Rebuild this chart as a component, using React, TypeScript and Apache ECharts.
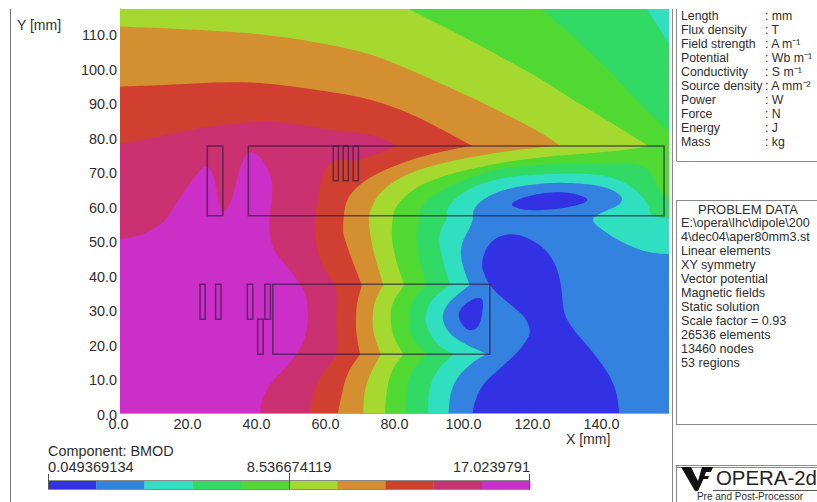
import React, { useEffect, useRef } from "react";
import * as echarts from "echarts";

type P = number[];
const X_MAX = 159.13;
const Y_MAX = 117.1;
const FONT = '"Liberation Sans", Arial, sans-serif';
const TEXT = "#2e2e2e";
const GRAY = "#8a8a8a";

const bandColors = ["#3232E4", "#3482DF", "#30DEC0", "#30DA64", "#50D932", "#A5D930", "#D48F30", "#D13F30", "#CB3070", "#CC2FC8"];

// Contours in mm; a repeated point keeps a sharp kink.
const tealContour: P[] = [[95.2,0],[95.7,5.7],[97.7,10.5],[102.4,14.9],[106.3,17.1],[106.3,17.1],[100.5,19.7],[95.7,22.6],[93.2,27],[94.2,30.8],[97.6,34.2],[101.4,37.1],[101.4,37.1],[100,40.5],[98.7,45.3],[99,49.2],[101,53],[102.4,55.9],[102.2,58.8],[105.3,62.2],[112.1,65.1],[121.8,66.6],[131.4,66.8],[141.1,65.6],[145.9,62.7],[145,60.3],[139.1,57.9],[136.2,55.9],[141.1,52.1],[146.9,48.7],[153.6,46.3],[159.13,46.1]];
const tealClose: P[] = [[159.13,117.1],[0,117.1],[0,0]];

const green2Contour: P[] = [[89.3,0],[89.4,6.7],[91.8,12.5],[96.6,17],[96.6,17],[91.8,19.7],[89,24.5],[88.4,27.9],[89.9,32.8],[95.7,37.1],[95.7,37.1],[93.7,43.4],[92.3,50.1],[93.3,54],[94.7,55.9],[94.7,59.8],[99.5,64.2],[107.3,67.5],[116.9,69],[131.4,69.5],[141,69],[148.8,65.6],[153.1,60.8],[153.8,57.4],[155.6,56.7],[159.13,56.4]];
const green2Close: P[] = [[159.13,107.1],[152.7,117.1],[0,117.1],[0,0]];

const greenContour: P[] = [[82.9,0],[83.1,7.6],[84.5,12.5],[89.1,17],[89.1,17],[84.5,21.2],[83.6,27],[84.5,32.8],[88.9,37.1],[88.9,37.1],[87,43.4],[85.8,50.1],[86.2,54],[87,55.9],[87,59.8],[90.8,63.2],[97.5,66.6],[107.3,70.4],[116.9,71.7],[131.4,72.4],[142,72.2],[148.8,72.4],[153.1,70.9],[155.1,67.1],[157,63.2],[159.13,61.7]];
const greenDiagonal: P[] = [[159.13,81.5],[150.7,89.8],[141,99.9],[131.4,109.1],[122.2,117.1],[0,117.1],[0,0]];

const yellowContour: P[] = [[76.8,0],[77.3,6.7],[78.7,12.5],[82.1,17],[82.1,17],[79.2,22.1],[78.3,27],[78.7,31.8],[82.4,37.1],[82.4,37.1],[80.2,43.4],[78.7,50.1],[78.9,55.9],[79.7,59.8],[85,65.1],[92.8,68.5],[102.4,70.9],[112.1,72.9],[123.7,74.3],[136,75.3],[146.7,76.2],[153.2,77.4],[153.2,77.4],[141.1,84.9],[131.4,90.7],[121.7,97],[112.1,102.3],[102.4,107.6],[92.8,112.5],[83.6,117.1]];
const yellowClose: P[] = [[0,117.1],[0,0]];

const orangeContour: P[] = [[70.5,0],[70.7,5.7],[72.5,11.5],[75.6,17],[75.6,17],[73.4,23.1],[73.1,27.9],[73.9,32.8],[76.3,37.1],[76.3,37.1],[74.4,43.4],[72.9,49.2],[72,55.9],[72.5,58.8],[74.9,63.7],[81.2,68.5],[90.8,71.9],[102.4,74.3],[114,76.2],[127.5,77.5],[127.5,77.5],[121.7,81.5],[112.1,86.4],[102.4,91.2],[92.8,95.6],[83.1,99.9],[73.4,103.8],[63.8,106.2],[47.3,109.1],[32.9,110.5],[13.5,111.5],[0,112]];
const orangeClose: P[] = [[0,0]];

const redContour: P[] = [[63.2,0],[63.8,3.3],[65.7,11.5],[69.6,17],[69.6,17],[68.4,23.1],[68.4,27.9],[68.6,31.8],[70.1,37.1],[70.1,37.1],[67.6,43.4],[65.2,50.1],[64.5,53],[65.2,60.8],[67.6,64.6],[72.5,68.5],[81.2,72.4],[90.8,75.3],[101.9,77.5],[101.9,77.5],[92.8,82.5],[83.1,87.3],[73.4,90.7],[63.8,92.7],[42.5,95.7],[30.9,96],[13.5,95.1],[0,94.6]];
const redClose: P[] = [[0,0]];

const pinkContour: P[] = [[55.1,0],[55.6,4.7],[58,10.5],[61.8,15.4],[63,17.3],[62.6,27],[63,36.6],[60.4,39.5],[57.5,45.3],[56.2,53],[57,60.8],[58.9,70.4],[61.8,73.1],[64.7,73.7],[67.6,72.9],[70.5,73.8],[75.4,75.4],[80.2,77.5],[80.2,77.5],[76.1,79.6],[70.5,81.1],[63.8,81.5],[47.3,84.4],[37.7,84.4],[25.1,83],[13.5,80.6],[0,78]];
const pinkClose: P[] = [[0,0]];

const magentaContour: P[] = [[40.6,0],[41.1,3.8],[43.5,8.6],[48.3,13.4],[52.2,18.3],[54.1,23.1],[54.6,27.9],[54.1,33.7],[52.2,37.6],[48.3,42.5],[44.4,47.2],[43.3,52.1],[43.3,56.9],[44.4,64.6],[43.5,69.5],[41.1,73.8],[38.6,75.7],[36.7,75.3],[34.8,71.4],[33.3,65.6],[31.9,60.3],[29.9,57.9],[29,59.3],[28,64.6],[27,69.5],[25.1,71.9],[23.2,70.4],[20.3,66.6],[17.4,62.7],[13.5,56],[8.7,52.6],[3.9,50.9],[0,50.4]];
const magentaClose: P[] = [[0,0]];

const plotCorners: P[] = [[0,0],[159.13,0],[159.13,117.1],[0,117.1]];

const islandUpper: P[] = [[112.6,60.3],[115.9,62.2],[121.7,63.7],[129.5,64.2],[136.2,62.2],[134.3,60.6],[126.6,59],[117.7,58.6]];
const islandCoil: P[] = [[97.8,27.9],[99,30.8],[102.4,33.2],[105.1,33.5],[105.3,30.3],[104.3,25.5],[102.4,23.8],[100,24.3]];
const islandLowerContour: P[] = [[102.2,0],[102.9,3.8],[105.3,8.6],[110.1,12.9],[115,17.3],[118.3,21.6],[119,24.1],[117.4,27.9],[112.1,32.3],[107.7,36.1],[105.3,40.5],[104.8,43.9],[106.3,48.2],[109.2,51.1],[114,52.1],[118.8,50.6],[123.7,47.2],[126.6,42.4],[128,36.6],[128.5,28.9],[131.4,24.1],[136.2,18.7],[141,12.5],[143.9,6.7],[144.7,0]];

type Region = { color: number; contour: P[]; close: P[]; closed?: boolean };
const regions: Region[] = [
  { color: 1, contour: [], close: plotCorners },
  { color: 2, contour: tealContour, close: tealClose },
  { color: 3, contour: green2Contour, close: green2Close },
  { color: 4, contour: greenContour, close: greenDiagonal },
  { color: 5, contour: yellowContour, close: yellowClose },
  { color: 6, contour: orangeContour, close: orangeClose },
  { color: 7, contour: redContour, close: redClose },
  { color: 8, contour: pinkContour, close: pinkClose },
  { color: 9, contour: magentaContour, close: magentaClose },
  { color: 0, contour: islandUpper, close: [], closed: true },
  { color: 0, contour: islandCoil, close: [], closed: true },
  { color: 0, contour: islandLowerContour, close: [] },
];

// Coil outlines: [x1, x2, y1, y2] in mm
const coilRects: number[][] = [
  [25.3,29.8,57.2,77.4],[37.2,157.7,57.2,77.4],
  [61.8,63.3,67.3,77.4],[64.7,66.2,67.3,77.4],[67.6,69.1,67.3,77.4],
  [23.2,24.7,27.2,37.3],[27.7,29.3,27.2,37.3],[36.9,38.5,27.2,37.3],[42,43.6,27.2,37.3],
  [39.9,41.5,17,27.2],[44.3,107.2,17,37.3],
];

const unitNames = ["Length","Flux density","Field strength","Potential","Conductivity","Source density","Power","Force","Energy","Mass"];
const unitValues = [": mm",": T",": A m⁻¹",": Wb m⁻¹",": S m⁻¹",": A mm⁻²",": W",": N",": J",": kg"];
const problemLines = ["E:\\opera\\lhc\\dipole\\200","4\\dec04\\aper80mm3.st","Linear elements","XY symmetry","Vector potential","Magnetic fields","Static solution","Scale factor = 0.93","26536 elements","13460 nodes","53 regions"];
const scaleLabels = ["0.049369134","8.536674119","17.0239791"];

function soften(points: P[], closed: boolean): P[] {
  let pts = points;
  for (let it = 0; it < 3; it++) {
    const out: P[] = [];
    if (!closed) out.push(pts[0]);
    const n = pts.length;
    const last = closed ? n : n - 1;
    for (let i = 0; i < last; i++) {
      const a = pts[i], b = pts[(i + 1) % n];
      out.push([a[0] * 0.75 + b[0] * 0.25, a[1] * 0.75 + b[1] * 0.25]);
      out.push([a[0] * 0.25 + b[0] * 0.75, a[1] * 0.25 + b[1] * 0.75]);
    }
    if (!closed) out.push(pts[n - 1]);
    pts = out;
  }
  return pts;
}

const txt = (x: number, y: number, text: string, fontSize = 12, align = "left", fill = TEXT) => ({
  type: "text", x, y, silent: true,
  style: { text, fontSize, fontFamily: FONT, fill, align, verticalAlign: "middle" },
});
const ln = (x1: number, y1: number, x2: number, y2: number, stroke = GRAY, lineWidth = 1) => ({
  type: "line", silent: true, shape: { x1, y1, x2, y2 }, style: { stroke, lineWidth },
});

function buildGraphics(): any[] {
  const g: any[] = [];
  g.push(ln(10.5, 9, 10.5, 502, "#777"));
  g.push(ln(672.5, 9, 672.5, 502));
  g.push(ln(676.5, 9, 676.5, 161), ln(676.5, 161.5, 817, 161.5));
  g.push(ln(676.5, 200.5, 817, 200.5), ln(676.5, 200, 676.5, 425), ln(676.5, 424.5, 817, 424.5));
  g.push(ln(676.5, 465.5, 817, 465.5), ln(676.5, 467.5, 817, 467.5), ln(676.5, 465, 676.5, 502));
  g.push(ln(713, 490.5, 817, 490.5, "#555"));
  unitNames.forEach((t, i) => {
    g.push(txt(681, 16 + i * 14, t, 12.3));
    g.push(txt(765, 16 + i * 14, unitValues[i], 12.3));
  });
  g.push(txt(748, 209, "PROBLEM DATA", 13, "center"));
  problemLines.forEach((t, i) => g.push(txt(681, 223 + i * 14, t, 12.6)));
  g.push(txt(17, 25, "Y [mm]", 14));
  g.push(txt(566, 439, "X [mm]", 14));
  g.push(txt(48, 451, "Component: BMOD", 14.4));
  g.push(txt(48, 467, scaleLabels[0], 14.7));
  g.push(txt(289, 467, scaleLabels[1], 14.7, "center"));
  g.push(txt(530, 467, scaleLabels[2], 14.6, "right"));
  const bw = (530 - 48) / bandColors.length;
  bandColors.forEach((c, i) => {
    g.push({ type: "rect", silent: true, shape: { x: 48 + i * bw, y: 481, width: bw + 0.3, height: 8 }, style: { fill: c } });
  });
  g.push(ln(48, 480.5, 530, 480.5), ln(48, 489.5, 530, 489.5));
  g.push(ln(48.5, 474, 48.5, 489, "#555"), ln(289.5, 473, 289.5, 489, "#555"), ln(529.5, 474, 529.5, 489, "#555"));
  g.push({
    type: "polygon", silent: true,
    shape: { points: [[681,467],[691,467],[698,481],[702,467],[713,467],[711,472],[706,472],[704.5,476],[709,476],[708,479],[703.5,479],[698,491],[695,491]] },
    style: { fill: "#111" },
  });
  g.push(txt(716, 478, "OPERA-2d", 20.4, "left", "#222"));
  g.push(txt(750, 496, "Pre and Post-Processor", 10, "center"));
  return g;
}

export default function App() {
  const ref = useRef<HTMLDivElement>(null);
  useEffect(() => {
    const chart = echarts.init(ref.current!, null, { renderer: "svg" });
    const axisLabel = { color: TEXT, fontSize: 14.4, fontFamily: FONT, showMaxLabel: false, formatter: (v: number) => v.toFixed(1) };
    chart.setOption({
      animation: false,
      backgroundColor: "#fff",
      grid: { left: 120, top: 9, width: 549, height: 404, containLabel: false },
      xAxis: {
        type: "value", min: 0, max: X_MAX, interval: 20, splitLine: { show: false }, axisTick: { show: false },
        axisLine: { show: true, onZero: false, lineStyle: { color: "#a5a5a5" } },
        axisLabel: { ...axisLabel, margin: 4, padding: [0, 3, 0, 0] },
      },
      yAxis: {
        type: "value", min: 0, max: Y_MAX, interval: 10, splitLine: { show: false }, axisTick: { show: false },
        axisLine: { show: true, onZero: false, lineStyle: { color: "#a5a5a5" } },
        axisLabel: { ...axisLabel, margin: 3, verticalAlign: "top", lineHeight: 4 },
      },
      graphic: buildGraphics(),
      series: [
        {
          type: "custom", clip: true, silent: true, z: 2,
          encode: { x: 0, y: 1 },
          data: regions.map((_, i) => [i, 0]),
          renderItem: (params: any, api: any) => {
            const r = regions[params.dataIndex];
            const path = r.contour.length ? soften(r.contour, !!r.closed) : [];
            const pts = path.concat(r.close).map((p) => api.coord(p));
            return { type: "polygon", shape: { points: pts }, style: { fill: bandColors[r.color], stroke: null } };
          },
        },
        {
          type: "custom", clip: false, silent: true, z: 3,
          encode: { x: 0, y: 2 },
          data: coilRects,
          renderItem: (params: any, api: any) => {
            const [x1, x2, y1, y2] = coilRects[params.dataIndex];
            const pts = [[x1, y1], [x2, y1], [x2, y2], [x1, y2]].map((p) => api.coord(p));
            return { type: "polygon", shape: { points: pts }, style: { fill: "none", stroke: "rgba(50,30,70,0.7)", lineWidth: 1.5 } };
          },
        },
      ],
    });
    return () => chart.dispose();
  }, []);
  return <div ref={ref} style={{ position: "fixed", left: 0, top: 0, width: 817, height: 502 }} />;
}
